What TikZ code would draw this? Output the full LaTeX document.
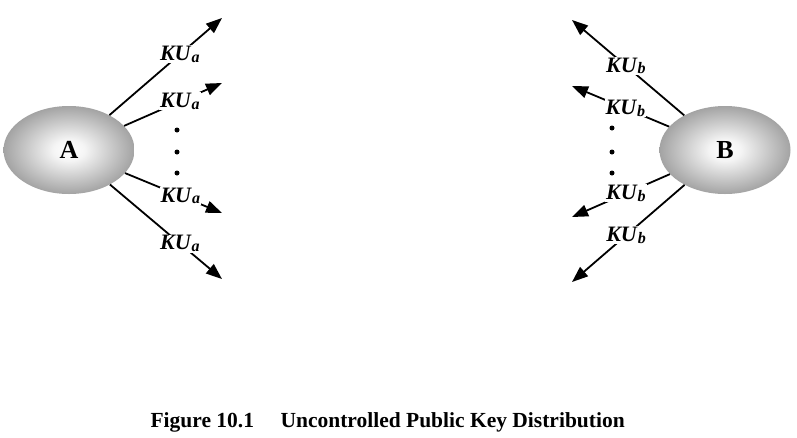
\documentclass[tikz,border=0pt]{standalone}
\usepackage{fontspec}
\setmainfont{Liberation Serif}
\usetikzlibrary{shapes.geometric,arrows.meta}
\pgfdeclareradialshading{keyball}{\pgfpoint{0bp}{0bp}}{color(0bp)=(white); color(6bp)=(gray!8); color(25bp)=(gray!72); color(50bp)=(gray!72)}
\newcommand{\pubkey}[1]{\textbf{\textit{KU}\raisebox{-0.15ex}{\fontsize{16}{16}\selectfont\textit{#1}}}}

\begin{document}
\begin{tikzpicture}[x=1pt,y=-1pt,
	party/.style={ellipse,shading=keyball,minimum width=131pt,minimum height=88pt,inner sep=0pt,font=\fontsize{26}{26}\selectfont\bfseries},
	keyline/.style={line width=1.8pt,-{Triangle[length=16pt,width=12pt]}},
	keylabel/.style={fill=white,inner sep=1pt,font=\fontsize{22}{22}\selectfont},
	keydot/.style={circle,fill,inner sep=0pt,minimum size=5pt},
	caption/.style={anchor=base west,font=\fontsize{21.5}{26}\selectfont\bfseries}]
	\fill[white] (0,0) rectangle (797,437);
	\useasboundingbox (0,0) rectangle (797,437);
	% the two parties
	\node[party] (A) at (69,150) {A};
	\node[party] (B) at (725,150) {B};
	% free ends of the broadcasts
	\coordinate (a1) at (222,18);
	\coordinate (a2) at (222,83);
	\coordinate (a3) at (222,213);
	\coordinate (a4) at (222,279);
	\coordinate (b1) at (572,20);
	\coordinate (b2) at (572,86);
	\coordinate (b3) at (572,217);
	\coordinate (b4) at (572,282);
	% A sends its public key
	\draw[keyline] (A) -- (a1) node[keylabel,pos=0.625] (ka1) {\pubkey{a}};
	\draw[keyline] (A) -- (a2) node[keylabel,pos=0.57] (ka2) {\pubkey{a}};
	\draw[keyline] (A) -- (a3) node[keylabel,pos=0.57] (ka3) {\pubkey{a}};
	\draw[keyline] (A) -- (a4) node[keylabel,pos=0.625] (ka4) {\pubkey{a}};
	% B sends its public key
	\draw[keyline] (B) -- (b1) node[keylabel,pos=0.52] (kb1) {\pubkey{b}};
	\draw[keyline] (B) -- (b2) node[keylabel,pos=0.45] (kb2) {\pubkey{b}};
	\draw[keyline] (B) -- (b3) node[keylabel,pos=0.45] (kb3) {\pubkey{b}};
	\draw[keyline] (B) -- (b4) node[keylabel,pos=0.52] (kb4) {\pubkey{b}};
	% dots
	\node[keydot] (da1) at (177,130) {};
	\node[keydot] (da2) at (177,152) {};
	\node[keydot] (da3) at (177,173) {};
	\node[keydot] (db1) at (612,128) {};
	\node[keydot] (db2) at (612,152) {};
	\node[keydot] (db3) at (612,173) {};
	% caption
	\node[caption] (fignum) at (147,427) {Figure 10.1};
	\node[caption] (figtitle) at (277,427) {Uncontrolled Public Key Distribution};
\end{tikzpicture}
\end{document}
